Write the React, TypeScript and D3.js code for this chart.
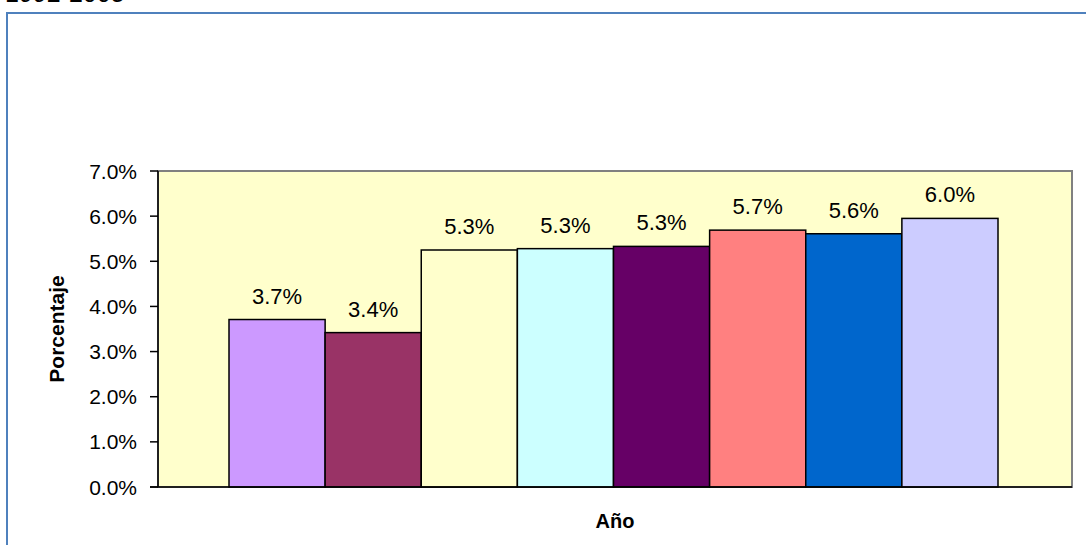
import React, { useEffect, useRef } from 'react';
import * as d3 from 'd3';

// one category, eight series (each bar is its own series)
const seriesNames = ['Serie 1', 'Serie 2', 'Serie 3', 'Serie 4', 'Serie 5', 'Serie 6', 'Serie 7', 'Serie 8'];
const seriesValues = [0.0371, 0.0342, 0.0525, 0.0528, 0.0533, 0.0569, 0.0561, 0.0595];
const seriesLabels = ['3.7%', '3.4%', '5.3%', '5.3%', '5.3%', '5.7%', '5.6%', '6.0%'];
const seriesColors = ['#CC99FF', '#993366', '#FFFFCC', '#CCFFFF', '#660066', '#FF8080', '#0066CC', '#CCCCFF'];
const yTicks = [0, 0.01, 0.02, 0.03, 0.04, 0.05, 0.06, 0.07];

const W = 1086;
const H = 545;

const App = () => {
  const svgRef = useRef<SVGSVGElement>(null);

  useEffect(() => {
    const svg = d3.select(svgRef.current);
    svg.selectAll('*').remove();

    const font = 'Arial, "Liberation Sans", sans-serif';

    // plot area
    const left = 158, right = 1072, top = 171, bottom = 487;

    const y = d3.scaleLinear().domain([0, 0.07]).range([bottom, top]);
    const x = d3.scaleBand().domain(seriesNames).range([left + 71, right - 74]).padding(0);

    // outer chart frame (runs off the page)
    svg.append('rect')
      .attr('x', 7).attr('y', 13)
      .attr('width', W + 20).attr('height', H + 20)
      .attr('fill', 'white')
      .attr('stroke', '#4F81BD').attr('stroke-width', 2);

    // title, mostly cut off at the top
    svg.append('text')
      .attr('x', 5).attr('y', 2)
      .attr('font-family', font).attr('font-size', 25)
      .attr('fill', '#000')
      .text('1992-2005');

    svg.append('rect')
      .attr('x', left).attr('y', top)
      .attr('width', right - left).attr('height', bottom - top)
      .attr('fill', '#FFFFCC')
      .attr('stroke', '#808080').attr('stroke-width', 2);

    // bars
    svg.append('g')
      .selectAll('rect')
      .data(seriesValues)
      .join('rect')
        .attr('x', (d, i) => x(seriesNames[i]))
        .attr('y', d => y(d))
        .attr('width', x.bandwidth())
        .attr('height', d => y(0) - y(d))
        .attr('fill', (d, i) => seriesColors[i])
        .attr('stroke', '#000').attr('stroke-width', 1.5);

    // data labels
    svg.append('g')
      .selectAll('text')
      .data(seriesValues)
      .join('text')
        .attr('x', (d, i) => x(seriesNames[i]) + x.bandwidth() / 2)
        .attr('y', d => y(d) - 16)
        .attr('text-anchor', 'middle')
        .attr('font-family', font).attr('font-size', 22)
        .attr('fill', '#000')
        .text((d, i) => seriesLabels[i]);

    // axes lines
    svg.append('line')
      .attr('x1', left).attr('x2', left).attr('y1', top).attr('y2', bottom)
      .attr('stroke', '#000').attr('stroke-width', 1.5);
    svg.append('line')
      .attr('x1', left - 8).attr('x2', right).attr('y1', bottom).attr('y2', bottom)
      .attr('stroke', '#000').attr('stroke-width', 1.5);

    const ticks = svg.append('g');
    ticks.selectAll('line')
      .data(yTicks)
      .join('line')
        .attr('x1', left - 8).attr('x2', left)
        .attr('y1', d => y(d)).attr('y2', d => y(d))
        .attr('stroke', '#000').attr('stroke-width', 1.5);
    ticks.selectAll('text')
      .data(yTicks)
      .join('text')
        .attr('x', 137)
        .attr('y', d => y(d))
        .attr('dy', '0.36em')
        .attr('text-anchor', 'end')
        .attr('font-family', font).attr('font-size', 21)
        .attr('fill', '#000')
        .text(d => d3.format('.1%')(d));

    // axis titles
    svg.append('text')
      .attr('transform', `translate(64,${(top + bottom) / 2}) rotate(-90)`)
      .attr('text-anchor', 'middle')
      .attr('font-family', font).attr('font-size', 21).attr('font-weight', 'bold')
      .attr('fill', '#000')
      .text('Porcentaje');

    svg.append('text')
      .attr('x', (left + right) / 2).attr('y', 528)
      .attr('text-anchor', 'middle')
      .attr('font-family', font).attr('font-size', 20).attr('font-weight', 'bold')
      .attr('fill', '#000')
      .text('Año');
  }, []);

  return (
    <svg
      ref={svgRef}
      width={W}
      height={H}
      style={{ position: 'absolute', left: 0, top: 0, background: 'white' }}
    />
  );
};

export default App;
